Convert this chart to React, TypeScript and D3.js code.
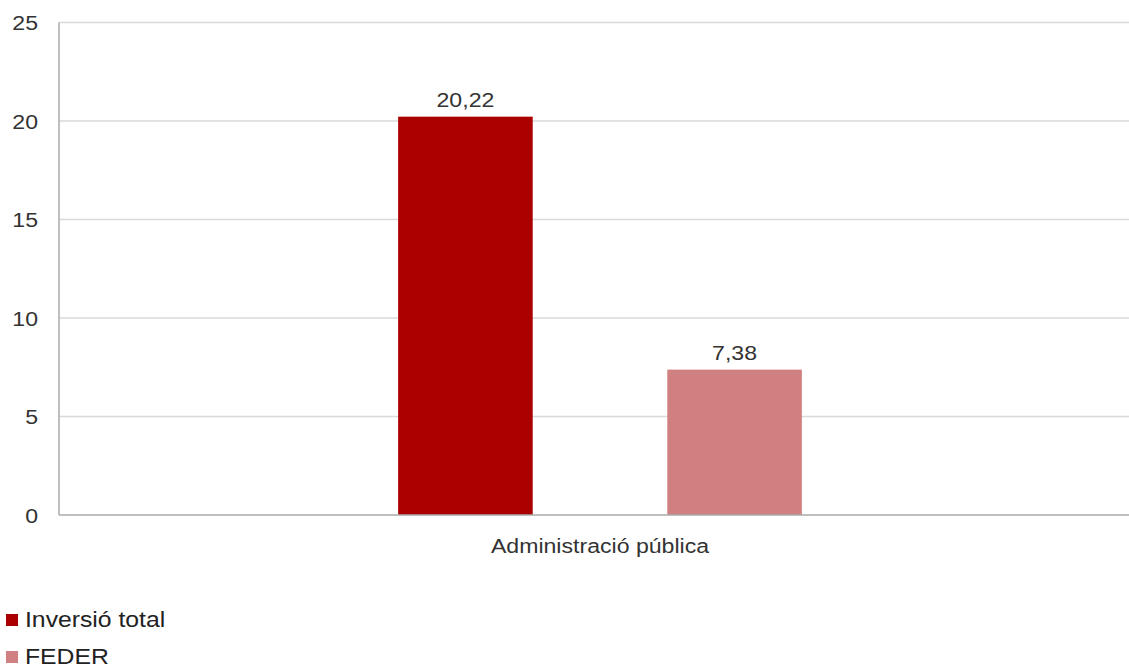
import React from "react";
import * as d3 from "d3";

const categories = ["Administració pública"];
const seriesNames = ["Inversió total", "FEDER"];
const seriesValues = [20.22, 7.38];
const seriesColors = ["#aa0000", "#d08080"];
const yTicks = [0, 5, 10, 15, 20, 25];

const W = 1129;
const H = 670;
const left = 59;
const right = 1141;
const top = 22.5;
const bottom = 515;
const SX = 1.1;

function T(props: {
  x: number;
  y: number;
  size: number;
  anchor?: string;
  fill?: string;
  children: React.ReactNode;
}) {
  return (
    <text
      transform={`translate(${props.x},${props.y}) scale(${SX},1)`}
      fontSize={props.size}
      fill={props.fill ?? "#333"}
      textAnchor={props.anchor ?? "start"}
    >
      {props.children}
    </text>
  );
}

export default function App() {
  const y = d3.scaleLinear().domain([0, 25]).range([bottom, top]);
  const x0 = d3.scaleBand().domain(categories).range([left, right]);
  const x1 = d3
    .scaleBand()
    .domain(seriesNames)
    .range([0, x0.bandwidth()])
    .paddingInner(0.5)
    .paddingOuter(1.26);
  const fmt = (v: number) => v.toFixed(2).replace(".", ",");
  const font = "Arial, 'Liberation Sans', sans-serif";
  return (
    <svg
      width={W}
      height={H}
      style={{ position: "absolute", left: 0, top: 0, background: "#fff" }}
      fontFamily={font}
    >
      {yTicks.map((t) => (
        <g key={t}>
          {t > 0 && (
            <line x1={left} x2={W} y1={y(t)} y2={y(t)} stroke="#d9d9d9" strokeWidth={1.5} />
          )}
          <T x={38} y={y(t) + 7.5} size={21} anchor="end">
            {t}
          </T>
        </g>
      ))}
      {categories.map((c) =>
        seriesNames.map((s, i) => {
          const xx = (x0(c) as number) + (x1(s) as number);
          return (
            <g key={c + s}>
              <rect
                x={xx}
                y={y(seriesValues[i])}
                width={x1.bandwidth()}
                height={bottom - y(seriesValues[i])}
                fill={seriesColors[i]}
              />
              <T x={xx + x1.bandwidth() / 2} y={y(seriesValues[i]) - 10} size={21} anchor="middle">
                {fmt(seriesValues[i])}
              </T>
            </g>
          );
        })
      )}
      <line x1={left} x2={left} y1={top} y2={bottom} stroke="#aaa" strokeWidth={1.5} />
      <line x1={left} x2={W} y1={bottom} y2={bottom} stroke="#aaa" strokeWidth={1.5} />
      {categories.map((c) => (
        <T key={c} x={(x0(c) as number) + x0.bandwidth() / 2} y={553} size={21} anchor="middle">
          {c}
        </T>
      ))}
      {seriesNames.map((s, i) => (
        <g key={s} transform={`translate(0, ${i * 37})`}>
          <rect x={6} y={614} width={12} height={12} fill={seriesColors[i]} />
          <T x={25} y={627} size={22.5} fill="#222">
            {s}
          </T>
        </g>
      ))}
    </svg>
  );
}
